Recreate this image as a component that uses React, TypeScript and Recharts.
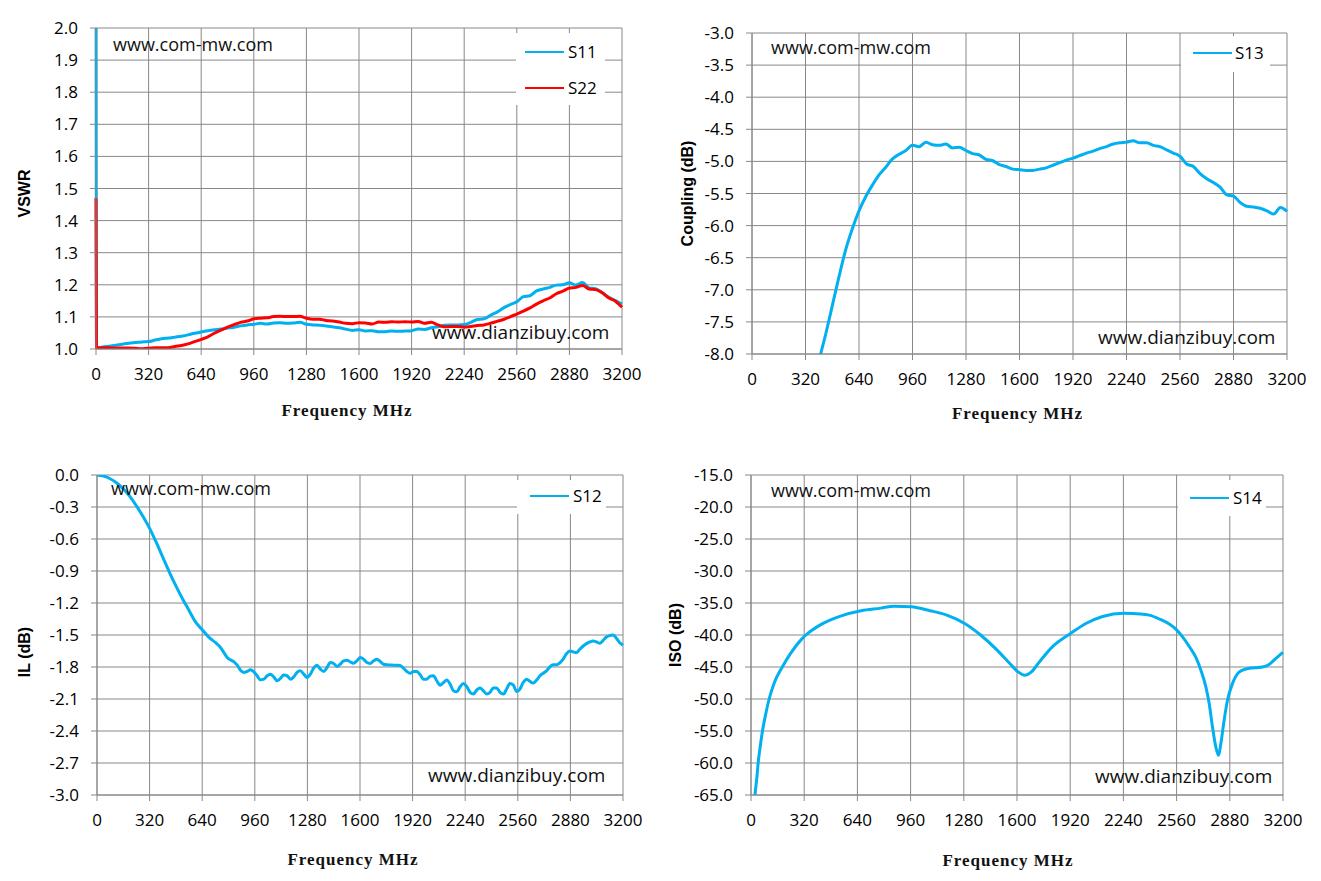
import React from "react";
import { CartesianGrid, Label, Legend, Line, LineChart, XAxis, YAxis } from "recharts";

const FONT = '"Open Sans", sans-serif';
const GRID = "#888888";
const BLUE = "#00B0F0";
const RED = "#FF0000";

const freqTicks = [0, 320, 640, 960, 1280, 1600, 1920, 2240, 2560, 2880, 3200];

// VSWR (S11 / S22)
const vswrFreq = [
  0, 3, 40, 80, 120, 160, 200, 240, 280, 320, 360, 400, 440, 480, 520, 560, 600, 640, 680, 720, 760, 800,
  840, 880, 920, 960, 1000, 1040, 1080, 1120, 1160, 1200, 1240, 1280, 1320, 1360, 1400, 1440, 1480, 1520,
  1560, 1600, 1640, 1680, 1720, 1760, 1800, 1840, 1880, 1920, 1960, 2000, 2040, 2080, 2120, 2160, 2200,
  2240, 2280, 2320, 2360, 2400, 2440, 2480, 2520, 2560, 2600, 2640, 2680, 2720, 2760, 2800, 2840, 2880,
  2920, 2960, 3000, 3040, 3080, 3120, 3160, 3200,
];
const s11Vswr = [
  2.6, 1.002,
  1.006, 1.009, 1.012, 1.015, 1.018, 1.02, 1.022, 1.023, 1.028, 1.032,
  1.034, 1.037, 1.04, 1.044, 1.049, 1.053, 1.057, 1.06, 1.062, 1.065,
  1.068, 1.072, 1.075, 1.077, 1.08, 1.078, 1.081, 1.082, 1.08, 1.081,
  1.083, 1.077, 1.075, 1.074, 1.072, 1.069, 1.066, 1.062, 1.058, 1.06,
  1.056, 1.057, 1.054, 1.054, 1.056, 1.055, 1.056, 1.057, 1.062, 1.061,
  1.066, 1.069, 1.074, 1.075, 1.075, 1.076, 1.083, 1.092, 1.094, 1.105,
  1.115, 1.128, 1.138, 1.147, 1.163, 1.166, 1.181, 1.187, 1.192, 1.199,
  1.2, 1.206, 1.199, 1.207, 1.19, 1.188, 1.175, 1.161, 1.151, 1.14,
];
const s22Vswr = [
  1.47, 1.005,
  1.004, 1.004, 1.003, 1.003, 1.003, 1.002, 1.001, 1.002, 1.004, 1.004,
  1.004, 1.008, 1.011, 1.016, 1.023, 1.03, 1.038, 1.049, 1.059, 1.068,
  1.076, 1.083, 1.087, 1.094, 1.096, 1.097, 1.101, 1.102, 1.101, 1.101,
  1.102, 1.096, 1.093, 1.093, 1.089, 1.087, 1.084, 1.08, 1.079, 1.082,
  1.081, 1.078, 1.084, 1.083, 1.085, 1.084, 1.085, 1.084, 1.086, 1.08,
  1.083, 1.075, 1.069, 1.07, 1.07, 1.068, 1.07, 1.073, 1.075, 1.08,
  1.086, 1.092, 1.1, 1.109, 1.118, 1.128, 1.14, 1.15, 1.159, 1.172,
  1.18, 1.19, 1.192, 1.198, 1.187, 1.185, 1.175, 1.159, 1.149, 1.13,
];
const vswrTicks = [1.0, 1.1, 1.2, 1.3, 1.4, 1.5, 1.6, 1.7, 1.8, 1.9, 2.0];

// Coupling (S13)
const s13Freq = [
  360, 400, 440, 480, 520, 560, 600, 640, 680, 720, 760, 800, 840, 880, 920, 960, 1000, 1040, 1080, 1120,
  1160, 1200, 1240, 1280, 1320, 1360, 1400, 1440, 1480, 1520, 1560, 1600, 1640, 1680, 1720, 1760, 1800,
  1840, 1880, 1920, 1960, 2000, 2040, 2080, 2120, 2160, 2200, 2240, 2280, 2320, 2360, 2400, 2440, 2480,
  2520, 2560, 2600, 2640, 2680, 2720, 2760, 2800, 2840, 2880, 2920, 2960, 3000, 3040, 3080, 3120, 3160, 3200,
];
const s13Coupling = [
  -8.7, -8.12, -7.7, -7.25, -6.8, -6.38, -6.05, -5.77, -5.55, -5.37,
  -5.21, -5.09, -4.96, -4.89, -4.83, -4.75, -4.77, -4.7, -4.74, -4.75,
  -4.73, -4.79, -4.78, -4.83, -4.88, -4.9, -4.97, -4.99, -5.05, -5.08,
  -5.12, -5.13, -5.14, -5.14, -5.12, -5.1, -5.06, -5.02, -4.98, -4.95,
  -4.91, -4.87, -4.84, -4.8, -4.77, -4.73, -4.71, -4.7, -4.68, -4.71,
  -4.71, -4.75, -4.77, -4.82, -4.87, -4.92, -5.04, -5.08, -5.19, -5.27,
  -5.33, -5.4, -5.52, -5.54, -5.64, -5.7, -5.71, -5.73, -5.77, -5.82,
  -5.72, -5.78,
];
const couplingTicks = [-8.0, -7.5, -7.0, -6.5, -6.0, -5.5, -5.0, -4.5, -4.0, -3.5, -3.0];

// Insertion loss (S12)
const s12Freq = [
  0, 40, 80, 120, 160, 200, 240, 280, 320, 360, 400, 440, 480, 520, 560, 600, 640, 680, 720,
  752, 772, 792, 812, 832, 853, 873, 893, 913, 934, 954, 974, 994, 1015, 1035, 1055, 1075, 1096, 1116,
  1136, 1156, 1177, 1197, 1217, 1237, 1258, 1278, 1298, 1318, 1338, 1359, 1379, 1399, 1419, 1440, 1460,
  1480, 1500, 1521, 1541, 1561, 1581, 1602, 1622, 1642, 1662, 1683, 1703, 1723, 1743, 1764, 1784, 1804,
  1824, 1844, 1865, 1885, 1905, 1925, 1946, 1966, 1986, 2006, 2027, 2047, 2067, 2087, 2108, 2128, 2148,
  2168, 2189, 2209, 2229, 2249, 2270, 2290, 2310, 2330, 2350, 2371, 2391, 2411, 2431, 2452, 2472, 2492,
  2512, 2533, 2553, 2573, 2593, 2614, 2634, 2654, 2674, 2695, 2715, 2735, 2755, 2776, 2796, 2816, 2836,
  2857, 2877, 2897, 2917, 2937, 2958, 2978, 2998, 3018, 3039, 3059, 3079, 3099, 3120, 3140, 3160, 3180, 3200,
];
const s12Loss = [
  0, -0.01, -0.035, -0.075, -0.13, -0.2, -0.29, -0.39, -0.5, -0.63, -0.77, -0.91, -1.04, -1.16, -1.27,
  -1.38, -1.45, -1.52, -1.57,
  -1.618, -1.665, -1.71, -1.733, -1.749, -1.783, -1.83, -1.851, -1.842, -1.826,
  -1.845, -1.882, -1.92, -1.914, -1.882, -1.867, -1.892, -1.929, -1.907, -1.876,
  -1.882, -1.914, -1.892, -1.851, -1.836, -1.867, -1.898, -1.867, -1.811, -1.783,
  -1.82, -1.842, -1.805, -1.758, -1.767, -1.795, -1.774, -1.742, -1.736, -1.752,
  -1.764, -1.742, -1.711, -1.727, -1.758, -1.767, -1.742, -1.727, -1.749, -1.774,
  -1.78, -1.781, -1.783, -1.784, -1.786, -1.811, -1.842, -1.858, -1.842, -1.842,
  -1.873, -1.914, -1.914, -1.886, -1.882, -1.929, -1.97, -1.945, -1.923, -1.96,
  -2.022, -2.032, -1.985, -1.954, -1.982, -2.038, -2.053, -2.016, -1.997, -2.022,
  -2.053, -2.038, -1.997, -1.997, -2.038, -2.053, -2.007, -1.954, -1.97, -2.029,
  -2.007, -1.945, -1.914, -1.935, -1.951, -1.923, -1.882, -1.858, -1.836, -1.799,
  -1.78, -1.78, -1.761, -1.727, -1.674, -1.649, -1.659, -1.665, -1.634, -1.603,
  -1.581, -1.565, -1.556, -1.565, -1.578, -1.55, -1.519, -1.505, -1.5, -1.531,
  -1.572, -1.596,
];
const ilTicks = [-3.0, -2.7, -2.4, -2.1, -1.8, -1.5, -1.2, -0.9, -0.6, -0.3, 0.0];

// Isolation (S14)
const s14Freq = [
  10, 24, 36, 43, 55, 69, 89, 109, 138, 188, 237, 306, 330, 425, 543, 662, 780, 861, 963, 1077, 1178,
  1285, 1381, 1482, 1558, 1609, 1647, 1685, 1735, 1811, 1920, 2014, 2115, 2242, 2343, 2396, 2456, 2516,
  2560, 2596, 2636, 2676, 2706, 2736, 2756, 2776, 2796, 2812, 2826, 2846, 2866, 2896, 2936, 2996, 3076,
  3116, 3156, 3200,
];
const s14Iso = [
  -70, -65, -62.1, -60, -57.5, -55, -52.3, -50, -47.6, -45, -42.9, -40.6, -40, -38.3, -37.0, -36.2, -35.8,
  -35.5, -35.6, -36.2, -36.9, -38.2, -40.0, -42.4, -44.5, -45.8, -46.3, -45.8, -44.2, -41.9, -39.8, -38.2,
  -37.1, -36.6, -36.7, -36.9, -37.5, -38.3, -39.2, -40.3, -41.8, -43.5, -45.5, -48.1, -50.7, -54.4, -57.5,
  -58.8, -57.0, -53.3, -50.2, -47.6, -45.8, -45.2, -45.0, -44.6, -43.7, -42.7,
];
const isoTicks = [-65, -60, -55, -50, -45, -40, -35, -30, -25, -20, -15];

function zip(freq: number[], cols: Record<string, number[]>) {
  return freq.map((f, i) => {
    const row: Record<string, number> = { freq: f };
    Object.keys(cols).forEach((k) => {
      row[k] = cols[k][i];
    });
    return row;
  });
}

type Series = { key: string; name: string; color: string };

interface PanelProps {
  left: number;
  top: number;
  plot: { x: number; y: number; w: number; h: number };
  data: Record<string, number>[];
  series: Series[];
  yDomain: [number, number];
  yTicks: number[];
  yTitle: string;
  yTitlePos: [number, number];
  xTitlePos: [number, number];
  legend: { x: number; y: number; w: number; h: number; rows: number[]; lineX: number; textX: number };
  marks: { top: [number, number]; bottom: [number, number] };
}

const W = 660;
const H = 440;
const Y_AXIS_W = 70;
const X_AXIS_H = 30;

function Panel(props: PanelProps) {
  const { plot, legend, marks } = props;
  const margin = {
    top: plot.y,
    left: plot.x - Y_AXIS_W,
    right: W - plot.x - plot.w,
    bottom: H - plot.y - plot.h - X_AXIS_H,
  };
  const tickStyle = { fill: "#000", fontSize: 17, fontFamily: FONT };

  const renderLegend = ({ payload }: any) => (
    <div style={{ position: "relative", width: legend.w, height: legend.h, background: "#fff" }}>
      {(payload || []).map((entry: any, i: number) => (
        <React.Fragment key={entry.value}>
          <div
            style={{
              position: "absolute",
              left: legend.lineX,
              top: legend.rows[i] - 1.25,
              width: 39,
              height: 2.5,
              background: entry.color,
            }}
          />
          <span
            style={{
              position: "absolute",
              left: legend.textX,
              top: legend.rows[i] - 12,
              lineHeight: "24px",
              fontSize: 17,
              fontFamily: FONT,
              color: "#000",
              whiteSpace: "nowrap",
            }}
          >
            {entry.value}
          </span>
        </React.Fragment>
      ))}
    </div>
  );

  return (
    <div style={{ position: "absolute", left: props.left, top: props.top, width: W, height: H }}>
      <LineChart width={W} height={H} data={props.data} margin={margin}>
        <CartesianGrid stroke={GRID} strokeWidth={1} />
        <XAxis
          dataKey="freq"
          type="number"
          domain={[0, 3200]}
          ticks={freqTicks}
          interval={0}
          height={X_AXIS_H}
          stroke={GRID}
          tickSize={6}
          tickMargin={13}
          tick={tickStyle}
        >
          <Label
            content={({ viewBox }: any) => (
              <text
                x={viewBox.x + viewBox.width / 2 + props.xTitlePos[0]}
                y={viewBox.y + props.xTitlePos[1]}
                textAnchor="middle"
                dominantBaseline="central"
                fontFamily='"Liberation Serif", serif'
                fontWeight="bold"
                fontSize={17}
                letterSpacing={1}
                fill="#111"
              >
                Frequency MHz
              </text>
            )}
          />
        </XAxis>
        <YAxis
          type="number"
          domain={props.yDomain}
          ticks={props.yTicks}
          interval={0}
          allowDataOverflow
          width={Y_AXIS_W}
          stroke={GRID}
          tickSize={6}
          tickMargin={12}
          tick={tickStyle}
          tickFormatter={(v: number) => v.toFixed(1)}
        >
          <Label
            content={({ viewBox }: any) => {
              const cx = viewBox.x + viewBox.width + props.yTitlePos[0];
              const cy = viewBox.y + viewBox.height / 2 + props.yTitlePos[1];
              return (
                <text
                  x={cx}
                  y={cy}
                  transform={`rotate(-90, ${cx}, ${cy})`}
                  textAnchor="middle"
                  dominantBaseline="central"
                  fontFamily='"Liberation Sans", Arial, sans-serif'
                  fontWeight="bold"
                  fontSize={16}
                  fill="#000"
                >
                  {props.yTitle}
                </text>
              );
            }}
          />
        </YAxis>
        <Legend
          layout="vertical"
          align="center"
          verticalAlign="middle"
          width={legend.w}
          height={legend.h}
          wrapperStyle={{ left: legend.x, top: legend.y, width: legend.w, height: legend.h }}
          content={renderLegend}
        />
        {props.series.map((s) => (
          <Line
            key={s.key}
            type="monotone"
            dataKey={s.key}
            name={s.name}
            stroke={s.color}
            strokeWidth={3}
            dot={false}
            activeDot={false}
            isAnimationActive={false}
          />
        ))}
      </LineChart>
      <svg
        width={W}
        height={H}
        style={{ position: "absolute", left: 0, top: 0, pointerEvents: "none" }}
      >
        <text x={marks.top[0]} y={marks.top[1]} fontFamily={FONT} fontSize={18} fill="#111">
          www.com-mw.com
        </text>
        <text x={marks.bottom[0]} y={marks.bottom[1]} fontFamily={FONT} fontSize={19} fill="#111">
          www.dianzibuy.com
        </text>
      </svg>
    </div>
  );
}

export default function App() {
  const vswrData = zip(vswrFreq, { s11: s11Vswr, s22: s22Vswr });
  const couplingData = zip(s13Freq, { s13: s13Coupling });
  const ilData = zip(s12Freq, { s12: s12Loss });
  const isoData = zip(s14Freq, { s14: s14Iso });

  return (
    <div
      style={{
        position: "absolute",
        left: 0,
        top: 0,
        width: 1321,
        height: 881,
        background: "#fff",
        overflow: "hidden",
      }}
    >
      <Panel
        left={0}
        top={0}
        plot={{ x: 96, y: 28, w: 526, h: 321 }}
        data={vswrData}
        series={[
          { key: "s11", name: "S11", color: BLUE },
          { key: "s22", name: "S22", color: RED },
        ]}
        yDomain={[1, 2]}
        yTicks={vswrTicks}
        yTitle="VSWR"
        yTitlePos={[-72, 5]}
        xTitlePos={[-12, 61]}
        legend={{ x: 516, y: 33, w: 89, h: 72, rows: [19, 55], lineX: 9, textX: 52 }}
        marks={{ top: [113, 51], bottom: [432, 339] }}
      />
      <Panel
        left={660}
        top={0}
        plot={{ x: 92, y: 33, w: 535, h: 321 }}
        data={couplingData}
        series={[{ key: "s13", name: "S13", color: BLUE }]}
        yDomain={[-8, -3]}
        yTicks={couplingTicks}
        yTitle="Coupling (dB)"
        yTitlePos={[-65, 0]}
        xTitlePos={[-2, 59]}
        legend={{ x: 521, y: 36, w: 89, h: 36, rows: [17], lineX: 12, textX: 54 }}
        marks={{ top: [111, 54], bottom: [438, 344] }}
      />
      <Panel
        left={0}
        top={440}
        plot={{ x: 97, y: 35, w: 526, h: 320 }}
        data={ilData}
        series={[{ key: "s12", name: "S12", color: BLUE }]}
        yDomain={[-3, 0]}
        yTicks={ilTicks}
        yTitle="IL (dB)"
        yTitlePos={[-73, 17]}
        xTitlePos={[-7, 64]}
        legend={{ x: 517, y: 40, w: 89, h: 34, rows: [16], lineX: 13, textX: 56 }}
        marks={{ top: [111, 55], bottom: [428, 342] }}
      />
      <Panel
        left={660}
        top={440}
        plot={{ x: 91, y: 35, w: 532, h: 320 }}
        data={isoData}
        series={[{ key: "s14", name: "S14", color: BLUE }]}
        yDomain={[-65, -15]}
        yTicks={isoTicks}
        yTitle="ISO (dB)"
        yTitlePos={[-76, 0]}
        xTitlePos={[-9, 65]}
        legend={{ x: 518, y: 40, w: 88, h: 36, rows: [18], lineX: 12, textX: 55 }}
        marks={{ top: [111, 57], bottom: [435, 343] }}
      />
    </div>
  );
}
